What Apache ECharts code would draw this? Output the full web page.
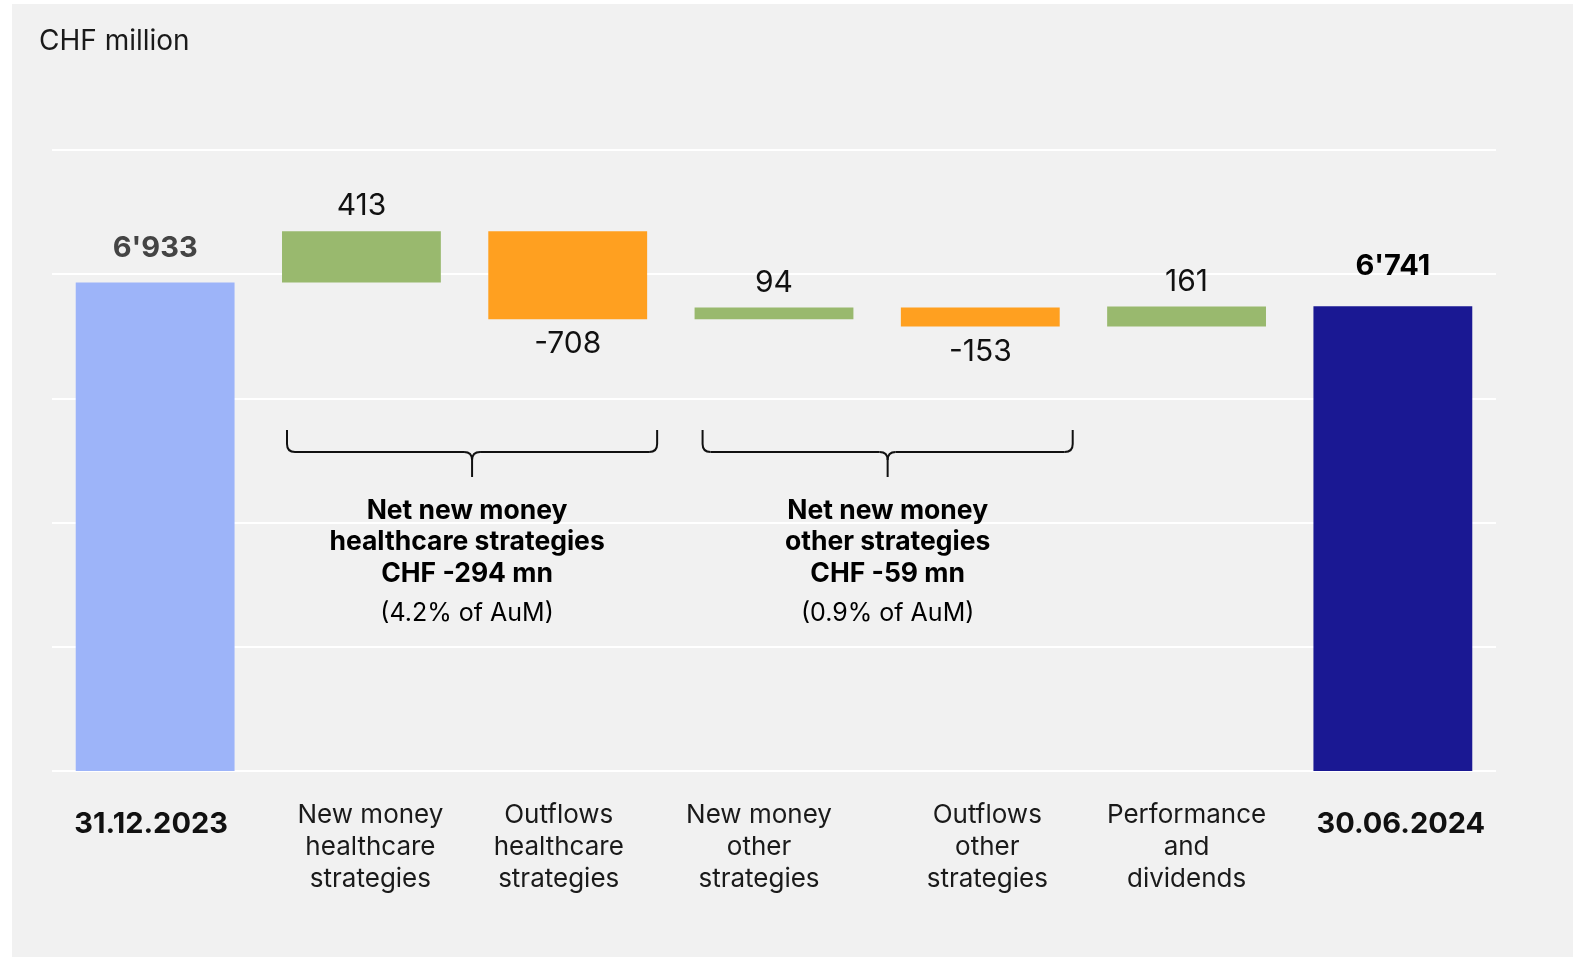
<!DOCTYPE html>
<html>
<head>
<meta charset="utf-8">
<script src="https://cdn.jsdelivr.net/npm/echarts@6/dist/echarts.min.js"></script>
<style>
  html, body { margin: 0; padding: 0; background: #ffffff; }
  #frame { position: absolute; left: 12px; top: 4px; width: 1561px; height: 953px; background: #f1f1f1; }
  #chart { position: absolute; left: 0; top: 0; width: 1573px; height: 961px; }
</style>
</head>
<body>
<div id="frame"></div>
<div id="chart"></div>
<script>
// values in CHF million
const categories = ['31.12.2023', 'New money\nhealthcare\nstrategies', 'Outflows\nhealthcare\nstrategies',
  'New money\nother\nstrategies', 'Outflows\nother\nstrategies', 'Performance\nand\ndividends', '30.06.2024'];
const startValue = 6933;
const changes = [413, -708, 94, -153, 161];
const endValue = 6741;
const groupNotes = [
  { from: 1, to: 2, lines: ['Net new money', 'healthcare strategies', 'CHF -294 mn'], share: '(4.2% of AuM)' },
  { from: 3, to: 4, lines: ['Net new money', 'other strategies', 'CHF -59 mn'], share: '(0.9% of AuM)' }
];

const FONT = 'Inter, "Noto Sans", sans-serif';
const fmt = v => {
  const s = String(Math.abs(v)).replace(/\B(?=(\d{3})+(?!\d))/g, "'");
  return (v < 0 ? '-' : '') + s;
};

// build waterfall base + visible heights
const baseData = [0];
const barData = [{
  value: startValue, raw: startValue,
  itemStyle: { color: '#9db4f9' },
  label: { position: 'top', distance: 20, fontWeight: 'bold', color: '#444444', fontSize: 29 }
}];
let total = startValue;
changes.forEach(c => {
  const next = total + c;
  baseData.push(Math.min(total, next));
  barData.push({
    value: Math.abs(c), raw: c,
    itemStyle: { color: c >= 0 ? '#99b96e' : '#ffa020' },
    label: { position: c >= 0 ? 'top' : 'bottom', distance: 10 }
  });
  total = next;
});
baseData.push(0);
barData.push({
  value: endValue, raw: endValue,
  itemStyle: { color: '#1a1893' },
  label: { position: 'top', distance: 26, fontWeight: 'bold', color: '#000000', fontSize: 29 }
});

// small horizontal nudges of the axis labels (px, + = right), as in the original layout
const labelShift = [-4, 9, -9, -15, 7, 0, 8];
const labelRich = {};
labelShift.forEach((s, i) => {
  const pad = [0, s < 0 ? -2 * s : 0, 0, s > 0 ? 2 * s : 0];
  const bold = i === 0 || i === labelShift.length - 1;
  labelRich['c' + i] = bold
    ? { fontFamily: FONT, fontSize: 29, fontWeight: 'bold', color: '#111', padding: [18, pad[1], 0, pad[3]] }
    : { fontFamily: FONT, fontSize: 26, color: '#1a1a1a', lineHeight: 32, padding: pad };
});

const chart = echarts.init(document.getElementById('chart'), null, { renderer: 'canvas' });

const option = {
  backgroundColor: 'transparent',
  animation: false,
  title: {
    text: 'CHF million', left: 34, top: 23,
    textStyle: { fontFamily: FONT, fontSize: 28, fontWeight: 'normal', color: '#1a1a1a' }
  },
  grid: { left: 52, right: 77, top: 150, bottom: 190 },
  xAxis: {
    type: 'category',
    data: categories,
    axisLine: { show: false },
    axisTick: { show: false },
    axisLabel: {
      interval: 0,
      margin: 28,
      fontFamily: FONT,
      fontSize: 26,
      lineHeight: 32,
      color: '#1a1a1a',
      formatter: (v, i) => v.split('\n').map(l => '{c' + i + '|' + l + '}').join('\n'),
      rich: labelRich
    }
  },
  yAxis: {
    type: 'value',
    min: 3000, max: 8000, interval: 1000,
    axisLabel: { show: false },
    axisLine: { show: false },
    axisTick: { show: false },
    splitLine: { lineStyle: { color: '#ffffff', width: 2 } }
  },
  series: [
    {
      type: 'bar', stack: 'wf', silent: true,
      itemStyle: { color: 'transparent' },
      data: baseData
    },
    {
      type: 'bar', stack: 'wf', barWidth: '77%',
      data: barData,
      label: {
        show: true,
        fontFamily: FONT, fontSize: 30, color: '#111111',
        formatter: p => fmt(p.data.raw)
      }
    }
  ]
};
chart.setOption(option);

// braces and group annotations
const noteShift = [{ brace: 0, text: -5 }, { brace: 3, text: 0 }];
function drawNotes() {
  const g = [];
  const step = chart.convertToPixel({ xAxisIndex: 0 }, 1) - chart.convertToPixel({ xAxisIndex: 0 }, 0);
  const bw = step * 0.77 / 2;
  const line = { stroke: '#111111', lineWidth: 2 };
  const curve = Object.assign({ fill: null }, line);
  groupNotes.forEach((n, k) => {
    const x1 = chart.convertToPixel({ xAxisIndex: 0 }, n.from) - bw + 5 + noteShift[k].brace;
    const x2 = chart.convertToPixel({ xAxisIndex: 0 }, n.to) + bw + 10 + noteShift[k].brace;
    const cx = (x1 + x2) / 2;
    const yTop = 430, yMid = 452, yTip = 477;
    const r = 8;
    g.push(
      { type: 'line', shape: { x1: x1, y1: yTop, x2: x1, y2: yMid - r }, style: line },
      { type: 'bezierCurve', shape: { x1: x1, y1: yMid - r, cpx1: x1, cpy1: yMid, x2: x1 + r, y2: yMid }, style: curve },
      { type: 'line', shape: { x1: x1 + r, y1: yMid, x2: cx - r, y2: yMid }, style: line },
      { type: 'bezierCurve', shape: { x1: cx - r, y1: yMid, cpx1: cx, cpy1: yMid, x2: cx, y2: yMid + r }, style: curve },
      { type: 'bezierCurve', shape: { x1: cx + r, y1: yMid, cpx1: cx, cpy1: yMid, x2: cx, y2: yMid + r }, style: curve },
      { type: 'line', shape: { x1: cx, y1: yMid + r, x2: cx, y2: yTip }, style: line },
      { type: 'line', shape: { x1: cx + r, y1: yMid, x2: x2 - r, y2: yMid }, style: line },
      { type: 'bezierCurve', shape: { x1: x2 - r, y1: yMid, cpx1: x2, cpy1: yMid, x2: x2, y2: yMid - r }, style: curve },
      { type: 'line', shape: { x1: x2, y1: yMid - r, x2: x2, y2: yTop }, style: line }
    );
    g.push({
      type: 'text', x: cx + noteShift[k].text, y: 495,
      style: {
        text: n.lines.map(l => '{b|' + l + '}').join('\n') + '\n{n|' + n.share + '}',
        align: 'center', verticalAlign: 'top',
        fontFamily: FONT,
        rich: {
          b: { fontFamily: FONT, fontSize: 26.5, fontWeight: 'bold', color: '#111', lineHeight: 31.5 },
          n: { fontFamily: FONT, fontSize: 25, color: '#222', lineHeight: 48 }
        }
      }
    });
  });
  chart.setOption({ graphic: g });
}
drawNotes();
</script>
</body>
</html>
